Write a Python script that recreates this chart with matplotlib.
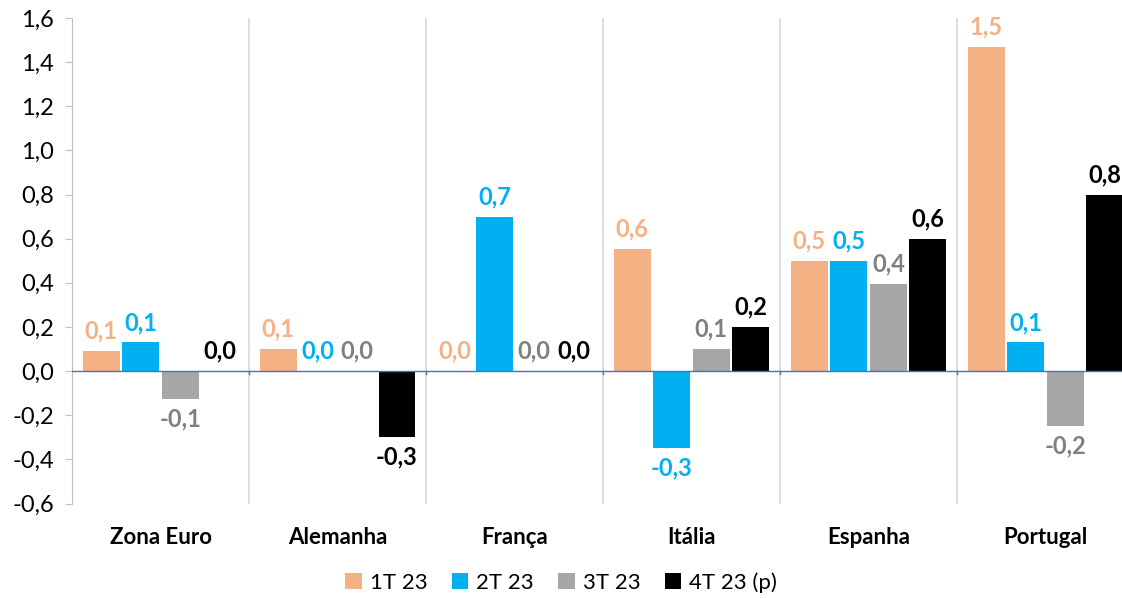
import numpy as np
import matplotlib.pyplot as plt
from matplotlib.ticker import FuncFormatter

plt.rcParams['font.family'] = ['Lato', 'DejaVu Sans']

# data
paises = ['Zona Euro', 'Alemanha', 'França', 'Itália', 'Espanha', 'Portugal']
series = ['1T 23', '2T 23', '3T 23', '4T 23 (p)']
t1 = [0.09, 0.10, 0.0, 0.553, 0.50, 1.47]
t2 = [0.13, 0.0, 0.70, -0.349, 0.50, 0.13]
t3 = [-0.127, 0.0, 0.0, 0.10, 0.395, -0.248]
t4 = [0.0, -0.30, 0.0, 0.20, 0.60, 0.80]
yticks = [-0.6, -0.4, -0.2, 0.0, 0.2, 0.4, 0.6, 0.8, 1.0, 1.2, 1.4, 1.6]

bar_colors = ['#F4B183', '#00B0F0', '#A6A6A6', '#000000']
label_colors = ['#F4B183', '#00B0F0', '#808080', '#000000']

fig = plt.figure(figsize=(11.22, 5.98), dpi=100)
ax = fig.add_axes([0.0642, 0.158, 0.9465, 0.812])

x = np.arange(len(paises))
step = 0.224
width = 0.209
for i, vals in enumerate([t1, t2, t3, t4]):
    pos = x + (i - 1.5) * step
    ax.bar(pos, vals, width, color=bar_colors[i], label=series[i], zorder=3)
    for xp, v in zip(pos, vals):
        txt = f'{v:.1f}'.replace('.', ',')
        if v < 0:
            ax.annotate(txt, (xp, v), xytext=(0, -6), textcoords='offset points',
                        ha='center', va='top', fontsize=17, fontweight='bold',
                        color=label_colors[i])
        else:
            ax.annotate(txt, (xp, v), xytext=(0, 6), textcoords='offset points',
                        ha='center', va='bottom', fontsize=17, fontweight='bold',
                        color=label_colors[i])

# separators between categories
for b in np.arange(0.5, len(paises) - 0.5, 1):
    ax.axvline(b, color='#D9D9D9', lw=1.2, zorder=1)
    ax.plot([b, b], [-0.015, 0.0], color='#4472C4', lw=1, zorder=2)

ax.axhline(0, color='#4472C4', lw=1, zorder=4)

ax.set_xlim(-0.5, len(paises) - 0.5)
ax.set_ylim(-0.6, 1.6)
ax.set_yticks(yticks)
ax.yaxis.set_major_formatter(FuncFormatter(lambda v, p: f'{v:.1f}'.replace('.', ',')))
ax.tick_params(axis='y', labelsize=17, color='#BFBFBF', length=5, pad=8)
ax.set_xticks(x)
ax.set_xticklabels(paises, fontsize=16, fontweight='bold')
ax.tick_params(axis='x', length=0, pad=17)

for s in ['top', 'right', 'bottom']:
    ax.spines[s].set_visible(False)
ax.spines['left'].set_color('#BFBFBF')

fig.legend(loc='lower center', bbox_to_anchor=(0.5, -0.025), ncol=4, frameon=False,
           fontsize=16, handlelength=0.75, handleheight=0.75, handletextpad=0.35,
           columnspacing=1.1)

fig.savefig('out.png', dpi=100)
